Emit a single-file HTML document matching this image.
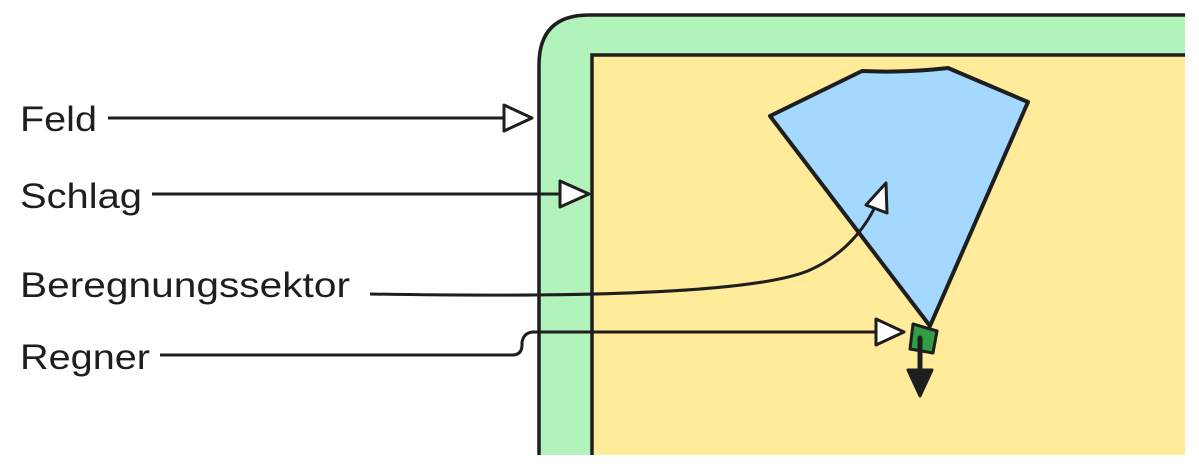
<!DOCTYPE html>
<html><head><style>
html,body{margin:0;padding:0;background:#fff;}
svg{display:block;}
text{font-family:"Liberation Sans",sans-serif;font-size:35px;fill:#1e1e1e;}
</style></head><body>
<svg width="1199" height="472" viewBox="0 0 1199 472">
<path d="M539,455 L539,65 Q539,15 589,15 L1185,15 L1185,455 Z" fill="#b2f2bb"/>
<path d="M539,455 L539,65 Q539,15 589,15 L1185,15" fill="none" stroke="#1e1e1e" stroke-width="3.5"/>
<rect x="592" y="55" width="593" height="400" fill="#ffeb99"/>
<path d="M592,455 L592,55 L1185,55" fill="none" stroke="#1e1e1e" stroke-width="3.5"/>
<path d="M770,116 L862,71 Q905,73 948,68 L1028,102 L930,326 Z" fill="#a5d8ff" stroke="#1e1e1e" stroke-width="4" stroke-linejoin="round"/>
<g stroke="#1e1e1e" stroke-width="3" fill="none">
<line x1="108" y1="118" x2="504" y2="118"/>
<line x1="152" y1="194" x2="560" y2="194"/>
<path d="M370,294 C600,298 760,292 810,270 C850,252 870,220 878,200"/>
<path d="M160,355 L512,355 Q522,355 522,345 L522,342 Q524,332 534,332 L876,332"/>
</g>
<g stroke="#1e1e1e" stroke-width="3" fill="#fff" stroke-linejoin="round">
<polygon points="504,105 532,118 504,131"/>
<polygon points="560,181 589,194 560,207"/>
<polygon points="886,183 887,213 866,205"/>
<polygon points="876,319 904,332 876,345"/>
</g>
<polygon points="913,324 937,331 933,353 910,349" fill="#2f9e44" stroke="#1e1e1e" stroke-width="3" stroke-linejoin="round"/>
<line x1="920" y1="338" x2="920" y2="372" stroke="#1e1e1e" stroke-width="5" stroke-linecap="round"/>
<polygon points="908,370 932,370 920,396" fill="#1e1e1e" stroke="#1e1e1e" stroke-width="3" stroke-linejoin="round"/>
<text x="20" y="131" textLength="77" lengthAdjust="spacingAndGlyphs">Feld</text>
<text x="20" y="208" textLength="122" lengthAdjust="spacingAndGlyphs">Schlag</text>
<text x="20" y="297" textLength="330" lengthAdjust="spacingAndGlyphs">Beregnungssektor</text>
<text x="20" y="369" textLength="130" lengthAdjust="spacingAndGlyphs">Regner</text>
</svg>
</body></html>
